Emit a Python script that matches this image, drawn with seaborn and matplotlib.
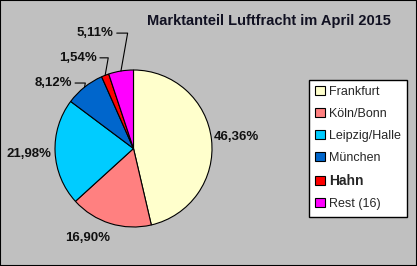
import numpy as np
import matplotlib
matplotlib.use("Agg")
import matplotlib.pyplot as plt
from matplotlib.patches import Patch, Rectangle
import seaborn as sns

# ---- data ----
categories = ["Frankfurt", "Köln/Bonn", "Leipzig/Halle", "München", "Hahn", "Rest (16)"]
shares = [46.36, 16.90, 21.98, 8.12, 1.54, 5.11]
label_texts = ["46,36%", "16,90%", "21,98%", "8,12%", "1,54%", "5,11%"]
colors = ["#FFFFCC", "#FF8080", "#00CCFF", "#0066CC", "#FF0000", "#FF00FF"]
title = "Marktanteil Luftfracht im April 2015"

sns.set_theme(style="white")
plt.rcParams["font.family"] = ["Liberation Sans", "DejaVu Sans"]

W, H = 417, 266
fig = plt.figure(figsize=(W / 100, H / 100), dpi=100)
fig.patch.set_facecolor("#C0C0C0")

# pie axes: center (133.5,148.5) px, radius 78.5 px
cx, cy, r = 133.5, 148.5, 78.5
ax = fig.add_axes([(cx - r) / W, (H - cy - r) / H, 2 * r / W, 2 * r / H])
wedges, _ = ax.pie(shares, colors=colors, startangle=90, counterclock=False,
                   wedgeprops=dict(edgecolor="black", linewidth=0.8))
ax.set_xlim(-1, 1)
ax.set_ylim(-1, 1)
ax.set_aspect("equal")
ax.axis("off")

# label offsets (in radius units) relative to the pie center
label_pos = [(1.306, 0.146), (-0.58, -1.14), (-1.33, -0.07),
             (-1.025, 0.834), (-0.71, 1.155), (-0.49, 1.47)]
lab_kw = dict(fontsize=9.5, fontweight="bold", color="#111111")
for i, (w, txt) in enumerate(zip(wedges, label_texts)):
    mid = np.deg2rad((w.theta1 + w.theta2) / 2)
    tx, ty = label_pos[i]
    if i < 3:
        ax.text(tx, ty, txt, ha="center", va="center", clip_on=False, **lab_kw)
    else:
        ax.annotate(txt, xy=(np.cos(mid), np.sin(mid)), xytext=(tx, ty),
                    ha="center", va="center", annotation_clip=False,
                    arrowprops=dict(arrowstyle="-", color="black", lw=0.8,
                                    shrinkA=0, shrinkB=0,
                                    connectionstyle="angle,angleA=0,angleB=80,rad=0",
                                    relpos=(1.0, 0.5)),
                    **lab_kw)

fig.text(269 / W, 1 - 21 / H, title, ha="center", va="center",
         fontsize=10.5, fontweight="bold", color="#111122")

handles = [Patch(facecolor=c, edgecolor="black", linewidth=0.8) for c in colors]
leg = fig.legend(handles, categories, loc="upper left",
                 bbox_to_anchor=(309 / W, 1 - 80 / H), bbox_transform=fig.transFigure,
                 fontsize=9, frameon=True, fancybox=False, framealpha=1,
                 edgecolor="black", facecolor="white",
                 handlelength=0.75, handleheight=0.75, handletextpad=0.35,
                 labelspacing=0.8, borderpad=0.5, borderaxespad=0)
leg.get_frame().set_linewidth(1.0)
t = leg.get_texts()[4]
t.set_fontweight("bold")
t.set_fontsize(10)

fig.add_artist(Rectangle((0, 0), 1, 1, transform=fig.transFigure, fill=False,
                         edgecolor="black", linewidth=1.5))

fig.savefig("out.png", dpi=100, facecolor=fig.get_facecolor())
